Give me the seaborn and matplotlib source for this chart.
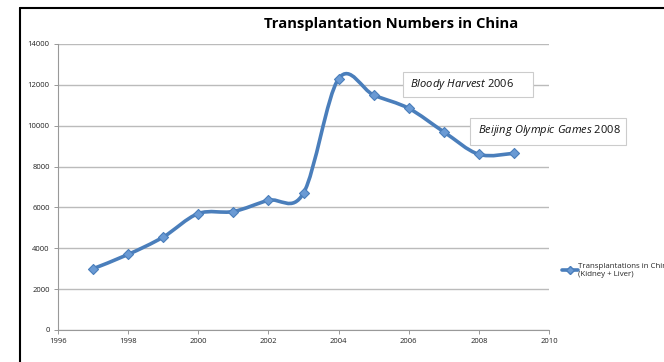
import matplotlib
matplotlib.use('Agg')
import matplotlib.pyplot as plt
from matplotlib.path import Path
from matplotlib.patches import PathPatch, Rectangle
from matplotlib.lines import Line2D
import numpy as np
import pandas as pd
import seaborn as sns

years = [1997, 1998, 1999, 2000, 2001, 2002, 2003, 2004, 2005, 2006, 2007, 2008, 2009]
transplants = [3000, 3700, 4550, 5700, 5800, 6350, 6700, 12300, 11500, 10850, 9700, 8600, 8650]
series_name = 'Transplantations in China\n(Kidney + Liver)'
title = 'Transplantation Numbers in China'
notes = [('Bloody\\ Harvest', '2006'), ('Beijing\\ Olympic\\ Games', '2008')]

sns.set_style('white')
plt.rcParams['font.family'] = ['Open Sans', 'DejaVu Sans']
plt.rcParams['mathtext.fontset'] = 'custom'
plt.rcParams['mathtext.it'] = 'Open Sans:italic'
plt.rcParams['mathtext.rm'] = 'Open Sans'

blue = '#4A7EBB'
df = pd.DataFrame({'year': years, 'n': transplants})

fig = plt.figure(figsize=(6.64, 3.62), dpi=100)
ax = fig.add_axes([58/664, 32/362, (549-58)/664, (330-44)/362])

# smoothed line (Excel-style bezier through the points)
x = np.array(years, dtype=float)
y = np.array(transplants, dtype=float)
xp = np.concatenate([[x[0]], x, [x[-1]]])
yp = np.concatenate([[y[0]], y, [y[-1]]])
verts = [(x[0], y[0])]
codes = [Path.MOVETO]
for i in range(len(x) - 1):
    c1 = (x[i] + (xp[i+2] - xp[i]) / 6, y[i] + (yp[i+2] - yp[i]) / 6)
    c2 = (x[i+1] - (xp[i+3] - xp[i+1]) / 6, y[i+1] - (yp[i+3] - yp[i+1]) / 6)
    verts += [c1, c2, (x[i+1], y[i+1])]
    codes += [Path.CURVE4] * 3
ax.add_patch(PathPatch(Path(verts, codes), fill=False, edgecolor=blue, lw=2.6,
                       capstyle='round', joinstyle='round', zorder=3))
sns.scatterplot(data=df, x='year', y='n', marker='D', s=26, color='#6A9AD4',
                edgecolor=blue, linewidth=0.8, ax=ax, zorder=4, legend=False)

ax.set_xlim(1996, 2010)
ax.set_ylim(0, 14000)
ax.set_xticks(range(1996, 2011, 2))
ax.set_yticks(range(0, 14001, 2000))
ax.tick_params(labelsize=5.5, length=3, width=0.6, color='#888888', direction='out',
               bottom=True, left=True, pad=3, labelcolor='#222222')
ax.set_xlabel('')
ax.set_ylabel('')
ax.yaxis.grid(True, color='#BBBBBB', lw=1)
ax.xaxis.grid(False)
for s in ['top', 'right']:
    ax.spines[s].set_visible(False)
for s in ['left', 'bottom']:
    ax.spines[s].set_color('#999999')
    ax.spines[s].set_linewidth(0.8)

fig.text(391/664, 1 - 24/362, title, ha='center', va='center', fontsize=10.6,
         fontweight='bold', color='black')

# annotation boxes
for (x0, y0, w, h) in [(403, 72, 130, 25), (470, 118, 156, 27)]:
    fig.add_artist(Rectangle((x0/664, 1 - (y0 + h)/362), w/664, h/362,
                             transform=fig.transFigure, fc='white', ec='#CCCCCC', lw=0.8))
fig.text(410/664, 1 - 85/362, f'$\\mathit{{{notes[0][0]}}}$ {notes[0][1]}',
         ha='left', va='center', fontsize=8, color='#111111')
fig.text(478/664, 1 - 131/362, f'$\\mathit{{{notes[1][0]}}}$ {notes[1][1]}',
         ha='left', va='center', fontsize=8, color='#111111')

handle = Line2D([], [], color=blue, lw=2.6, marker='D', markersize=4,
                markerfacecolor='#6A9AD4', markeredgecolor=blue)
fig.legend([handle], [series_name], loc='center left',
           bbox_to_anchor=(562/664, 1 - 270/362), frameon=False, fontsize=5.7,
           handlelength=2.0, handletextpad=0.05, borderaxespad=0, borderpad=0)

# cropped chart frame
fig.add_artist(Line2D([20/664, 1], [1 - 8/362, 1 - 8/362], color='black', lw=1.5,
                      transform=fig.transFigure))
fig.add_artist(Line2D([20/664, 20/664], [0, 1 - 8/362], color='black', lw=1.5,
                      transform=fig.transFigure))

fig.savefig('out.png', dpi=100)
